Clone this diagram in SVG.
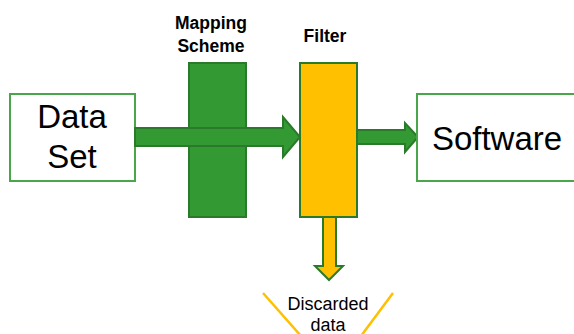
<svg xmlns="http://www.w3.org/2000/svg" width="574" height="334" viewBox="0 0 574 334">
  <style>
    .box { fill: #ffffff; stroke: #4aa64a; stroke-width: 2; }
    .big { font-family: "Liberation Sans", Arial, sans-serif; font-size: 33px; fill: #000; text-anchor: middle; }
    .lbl { font-family: "Liberation Sans", Arial, sans-serif; font-size: 17.5px; font-weight: bold; fill: #000; text-anchor: middle; }
    .small { font-family: "Liberation Sans", Arial, sans-serif; font-size: 18px; fill: #000; text-anchor: middle; }
    .green { fill: #339933; stroke: #2b7a2b; stroke-width: 2; stroke-linejoin: miter; }
    .yellow { fill: #ffc000; stroke: #2b7a2b; stroke-width: 2; }
  </style>

  <g id="data-set">
    <rect class="box" x="10" y="94" width="125" height="87"/>
    <text class="big" x="72" y="128">Data</text>
    <text class="big" x="72" y="168">Set</text>
  </g>

  <g id="mapping-scheme">
    <rect class="green" x="189" y="63" width="57" height="154"/>
    <text class="lbl" x="211" y="29">Mapping</text>
    <text class="lbl" x="211" y="52">Scheme</text>
  </g>

  <g id="connectors">
    <polygon class="green" points="135,128 283,128 283,117 300,137 283,157 283,146 135,146"/>
    <polygon class="green" points="357,130 405,130 405,123 418,137 405,152 405,144 357,144"/>
  </g>

  <g id="filter">
    <rect class="yellow" x="300" y="63" width="57" height="154"/>
    <text class="lbl" x="325" y="42">Filter</text>
    <polygon class="yellow" points="323,217 336,217 336,266 343,266 329,280 315,266 323,266"/>
  </g>

  <g id="software">
    <rect class="box" x="417" y="94" width="170" height="87"/>
    <text class="big" x="497" y="150">Software</text>
  </g>

  <g id="discarded-data">
    <line x1="263" y1="293" x2="301" y2="336" stroke="#ffc000" stroke-width="2.5"/>
    <line x1="393" y1="293" x2="361" y2="336" stroke="#ffc000" stroke-width="2.5"/>
    <text class="small" x="328" y="310">Discarded</text>
    <text class="small" x="328" y="331">data</text>
  </g>
</svg>
